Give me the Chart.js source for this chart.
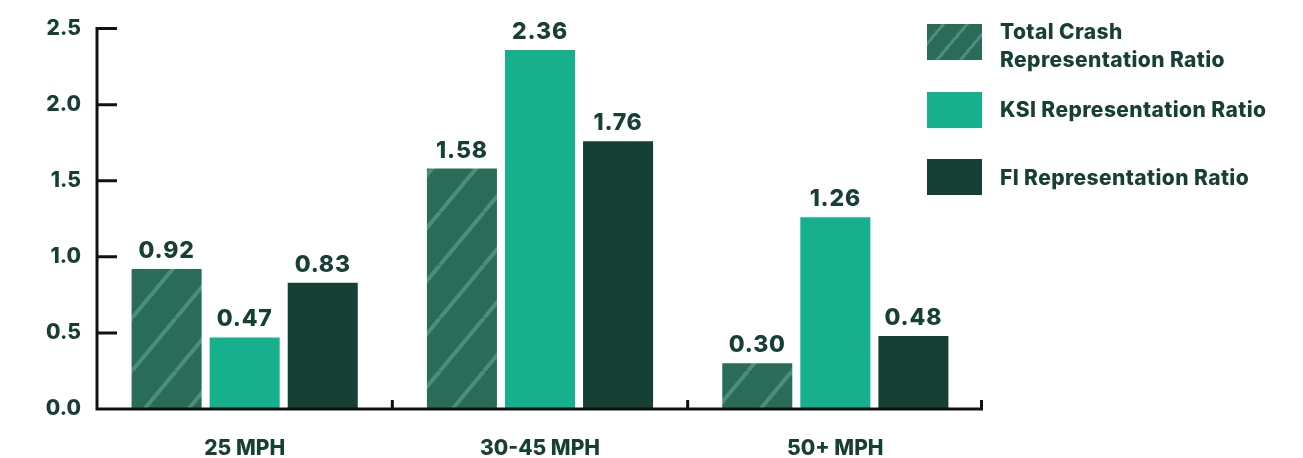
<!DOCTYPE html>
<html>
<head>
<meta charset="utf-8">
<script src="https://cdn.jsdelivr.net/npm/chart.js@4"></script>
<style>
  html, body { margin: 0; padding: 0; background: #ffffff; }
  #wrap { position: relative; width: 1303px; height: 458px; }
  #chart { position: absolute; left: 0; top: 0; }
  .legend { position: absolute; left: 927px; top: 0; font-family: "Inter", "Open Sans", sans-serif; font-weight: 800; color: #163f35; font-size: 21px; letter-spacing: 0.4px; }
  .item { position: absolute; left: 0; width: 370px; }
  .sw { position: absolute; left: 0; width: 55px; height: 36px; }
  .txt { position: absolute; left: 73px; line-height: 28px; white-space: nowrap; }
</style>
</head>
<body>
<div id="wrap">
  <canvas id="chart" width="1303" height="458"></canvas>
  <div class="legend" id="legend"></div>
</div>
<script>
const categories = ['25 MPH', '30-45 MPH', '50+ MPH'];
const seriesNames = [['Total Crash', 'Representation Ratio'], ['KSI Representation Ratio'], ['FI Representation Ratio']];
const totalCrash = [0.92, 1.58, 0.30];
const ksi = [0.47, 2.36, 1.26];
const fi = [0.83, 1.76, 0.48];
const yTicks = [0, 0.5, 1.0, 1.5, 2.0, 2.5];

const INK = '#163f35';
const C_TOTAL = '#2b6b5a';
const C_KSI = '#16b08c';
const C_FI = '#163f35';
const FONT = '"Inter", "Open Sans", sans-serif';

// diagonal hatch used for the Total Crash bars
function makeHatch() {
  const w = 44, h = 53;
  const c = document.createElement('canvas');
  c.width = w; c.height = h;
  const g = c.getContext('2d');
  g.fillStyle = C_TOTAL;
  g.fillRect(0, 0, w, h);
  g.strokeStyle = '#4a8e7b';
  g.lineWidth = 4;
  for (let k = -1; k <= 1; k++) {
    g.beginPath();
    g.moveTo(k * w, h);
    g.lineTo(k * w + w, 0);
    g.stroke();
  }
  return document.getElementById('chart').getContext('2d').createPattern(c, 'repeat');
}
const hatch = makeHatch();

// legend
const legendEl = document.getElementById('legend');
const legendRows = [
  { color: null, top: 24, textTop: 18 },
  { color: C_KSI, top: 92, textTop: 96 },
  { color: C_FI, top: 159, textTop: 164 }
];
legendRows.forEach((r, i) => {
  const item = document.createElement('div');
  item.className = 'item';
  const sw = document.createElement('div');
  sw.className = 'sw';
  sw.style.top = r.top + 'px';
  if (r.color) sw.style.background = r.color;
  else sw.style.background = 'repeating-linear-gradient(-50deg, #2b6b5a 0px, #2b6b5a 15px, #4a8e7b 15px, #4a8e7b 18px)';
  const t = document.createElement('div');
  t.className = 'txt';
  t.style.top = r.textTop + 'px';
  t.innerHTML = seriesNames[i].join('<br>');
  item.appendChild(sw);
  item.appendChild(t);
  legendEl.appendChild(item);
});

const axisPlugin = {
  id: 'axisPlugin',
  afterDatasetsDraw(chart) {
    const ctx = chart.ctx;
    const x = chart.scales.x, y = chart.scales.y;
    const left = x.left, right = x.right;
    const y0 = y.getPixelForValue(0), yTop = y.getPixelForValue(2.5);
    const step = x.getPixelForValue(1) - x.getPixelForValue(0);
    ctx.save();
    ctx.strokeStyle = '#111111';
    ctx.lineWidth = 3;
    ctx.lineCap = 'butt';
    ctx.beginPath();
    ctx.moveTo(left, yTop - 1.5);
    ctx.lineTo(left, y0 + 1.5);
    ctx.moveTo(left - 1.5, y0);
    ctx.lineTo(right, y0);
    // value ticks point into the plot
    yTicks.forEach(v => {
      if (v === 0) return;
      const py = y.getPixelForValue(v);
      ctx.moveTo(left, py);
      ctx.lineTo(left + 20, py);
    });
    // category separators
    for (let i = 0; i < categories.length; i++) {
      const bx = Math.min(x.getPixelForValue(i) + step / 2, right - 1.5);
      ctx.moveTo(bx, y0);
      ctx.lineTo(bx, y0 - 9);
    }
    ctx.stroke();

    // value labels
    ctx.fillStyle = INK;
    ctx.font = '800 23px ' + FONT;
    ctx.letterSpacing = '0.8px';
    ctx.textAlign = 'center';
    ctx.textBaseline = 'alphabetic';
    chart.data.datasets.forEach((ds, di) => {
      chart.getDatasetMeta(di).data.forEach((bar, i) => {
        ctx.fillText(ds.data[i].toFixed(2), bar.x, bar.y - 11);
      });
    });
    ctx.restore();
  }
};

new Chart(document.getElementById('chart'), {
  type: 'bar',
  data: {
    labels: categories,
    datasets: [
      { label: seriesNames[0].join(' '), data: totalCrash, backgroundColor: hatch },
      { label: seriesNames[1][0], data: ksi, backgroundColor: C_KSI },
      { label: seriesNames[2][0], data: fi, backgroundColor: C_FI }
    ]
  },
  options: {
    responsive: false,
    animation: false,
    layout: { padding: { left: 0, right: 320, top: 26, bottom: 0 } },
    datasets: { bar: { categoryPercentage: 0.793, barPercentage: 0.897, borderWidth: 0 } },
    plugins: { legend: { display: false }, tooltip: { enabled: false } },
    scales: {
      x: {
        grid: { display: false, drawTicks: false },
        border: { display: false },
        ticks: { color: INK, font: { family: FONT, size: 21, weight: '800' }, padding: 27 },
        afterFit(s) { s.height = 49; }
      },
      y: {
        min: 0, max: 2.5,
        grid: { display: false, drawTicks: false },
        border: { display: false },
        afterBuildTicks(s) { s.ticks = yTicks.map(v => ({ value: v })); },
        ticks: {
          color: INK, font: { family: FONT, size: 21, weight: '800' }, padding: 16,
          callback: v => Number(v).toFixed(1)
        },
        afterFit(s) { s.width = 97; }
      }
    }
  },
  plugins: [axisPlugin]
});
</script>
</body>
</html>
